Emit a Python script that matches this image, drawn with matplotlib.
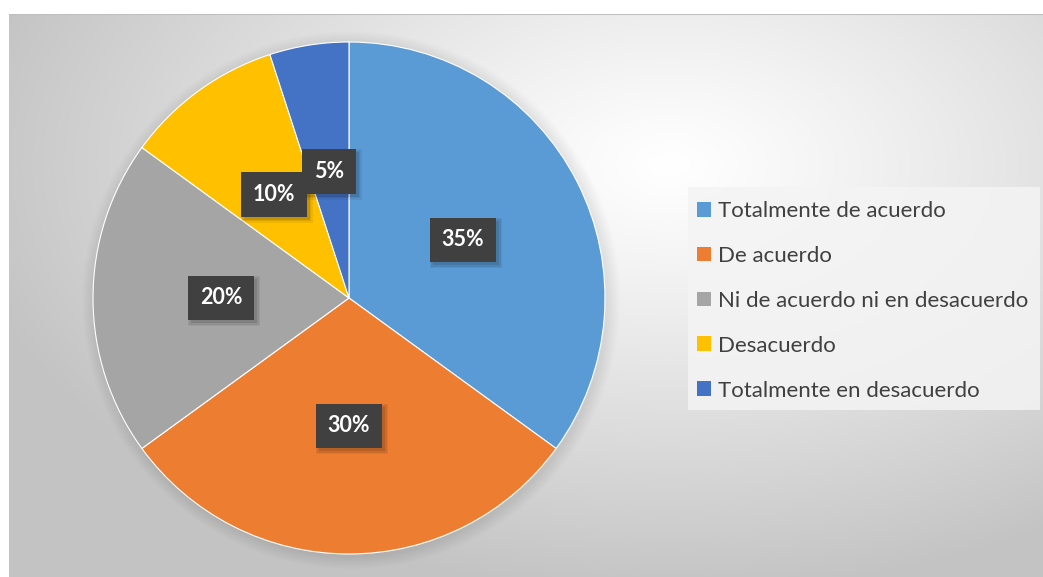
import numpy as np
import matplotlib
matplotlib.use("Agg")
import matplotlib.pyplot as plt
from matplotlib.patches import Rectangle, Circle

categories = ["Totalmente de acuerdo", "De acuerdo", "Ni de acuerdo ni en desacuerdo",
              "Desacuerdo", "Totalmente en desacuerdo"]
values = [35, 30, 20, 10, 5]
colors = ["#5B9BD5", "#ED7D31", "#A5A5A5", "#FFC000", "#4472C4"]

W, H = 1043, 577
fig = plt.figure(figsize=(W / 100, H / 100), dpi=100)
fig.patch.set_facecolor("white")

# background gradient panel
PW, PH = W - 9, H - 14
bg = fig.add_axes([9 / W, 0, PW / W, PH / H])
bg.set_axis_off()
yy, xx = np.mgrid[0:PH, 0:PW]
cx, cy = 660, 150
e = np.sqrt(((xx - cx) / 720.0) ** 2 + ((yy - cy) / 430.0) ** 2)
g = 1.0 - 0.235 * np.clip(e, 0, 1) ** 1.15
img = np.dstack([g, g, g])
bg.imshow(img, aspect="auto", extent=[0, 1, 0, 1], origin="upper")
bg.set_xlim(0, 1)
bg.set_ylim(0, 1)
bg.plot([0, 1], [1, 1], color="#bfbfbf", lw=1.5)

# legend frame
bg.add_patch(Rectangle(((688 - 9) / PW, (H - 410) / PH), (1040 - 688) / PW, (410 - 187) / PH,
                       transform=bg.transAxes, facecolor="#f4f4f4", alpha=0.85,
                       edgecolor="none", zorder=3))

# pie
cxp, cyp, r = 349, 298, 256
ax = fig.add_axes([(cxp - r) / W, 1 - (cyp + r) / H, 2 * r / W, 2 * r / H])
ax.set_facecolor("none")
for k in range(10):
    ax.add_patch(Circle((0.008, -0.008), 1.0 + 0.005 * (k + 1), facecolor="black",
                        edgecolor="none", alpha=0.008, zorder=0, clip_on=False))
wedges, texts, autotexts = ax.pie(values, colors=colors, startangle=90, counterclock=False,
                                  autopct="%1.0f%%", pctdistance=0.5,
                                  wedgeprops=dict(edgecolor="white", linewidth=0.8, zorder=1))
ax.set_aspect("equal")
ax.set_xlim(-1, 1)
ax.set_ylim(-1, 1)
for t in autotexts:
    t.set_color("white")
    t.set_fontweight("bold")
    t.set_fontsize(15.5)
    t.set_fontfamily("Lato")
    t.set_zorder(5)
    t.set_bbox(dict(boxstyle="square,pad=0.55", facecolor="#404040", edgecolor="none"))

# soft shadows behind the label boxes
fig.canvas.draw()
for t in autotexts:
    bb = t.get_bbox_patch().get_window_extent()
    for k, a in enumerate([0.10, 0.08, 0.06]):
        grow = k * 1.5
        fig.patches.append(Rectangle((bb.x0 + 3 - grow, bb.y0 - 3 - grow),
                                     bb.width + 2 * grow, bb.height + 2 * grow,
                                     transform=None, facecolor="black", alpha=a,
                                     edgecolor="none", zorder=0))
    # place shadow under the pie axes text: draw on ax instead
for p in list(fig.patches):
    fig.patches.remove(p)
    p.set_figure(fig)
    p.set_transform(matplotlib.transforms.IdentityTransform())
    p.set_zorder(4)
    ax.add_artist(p)

# legend
handles = [Rectangle((0, 0), 1, 1, facecolor=c, edgecolor="none") for c in colors]
leg = fig.legend(handles, categories, loc="upper left",
                 bbox_to_anchor=(697 / W, 1 - 201 / H), frameon=False,
                 prop=dict(family="Lato", size=16), labelcolor="#404040",
                 handlelength=0.65, handleheight=0.65, handletextpad=0.3,
                 labelspacing=1.12, borderpad=0, borderaxespad=0)

fig.savefig("out.png", dpi=100, facecolor="white")
